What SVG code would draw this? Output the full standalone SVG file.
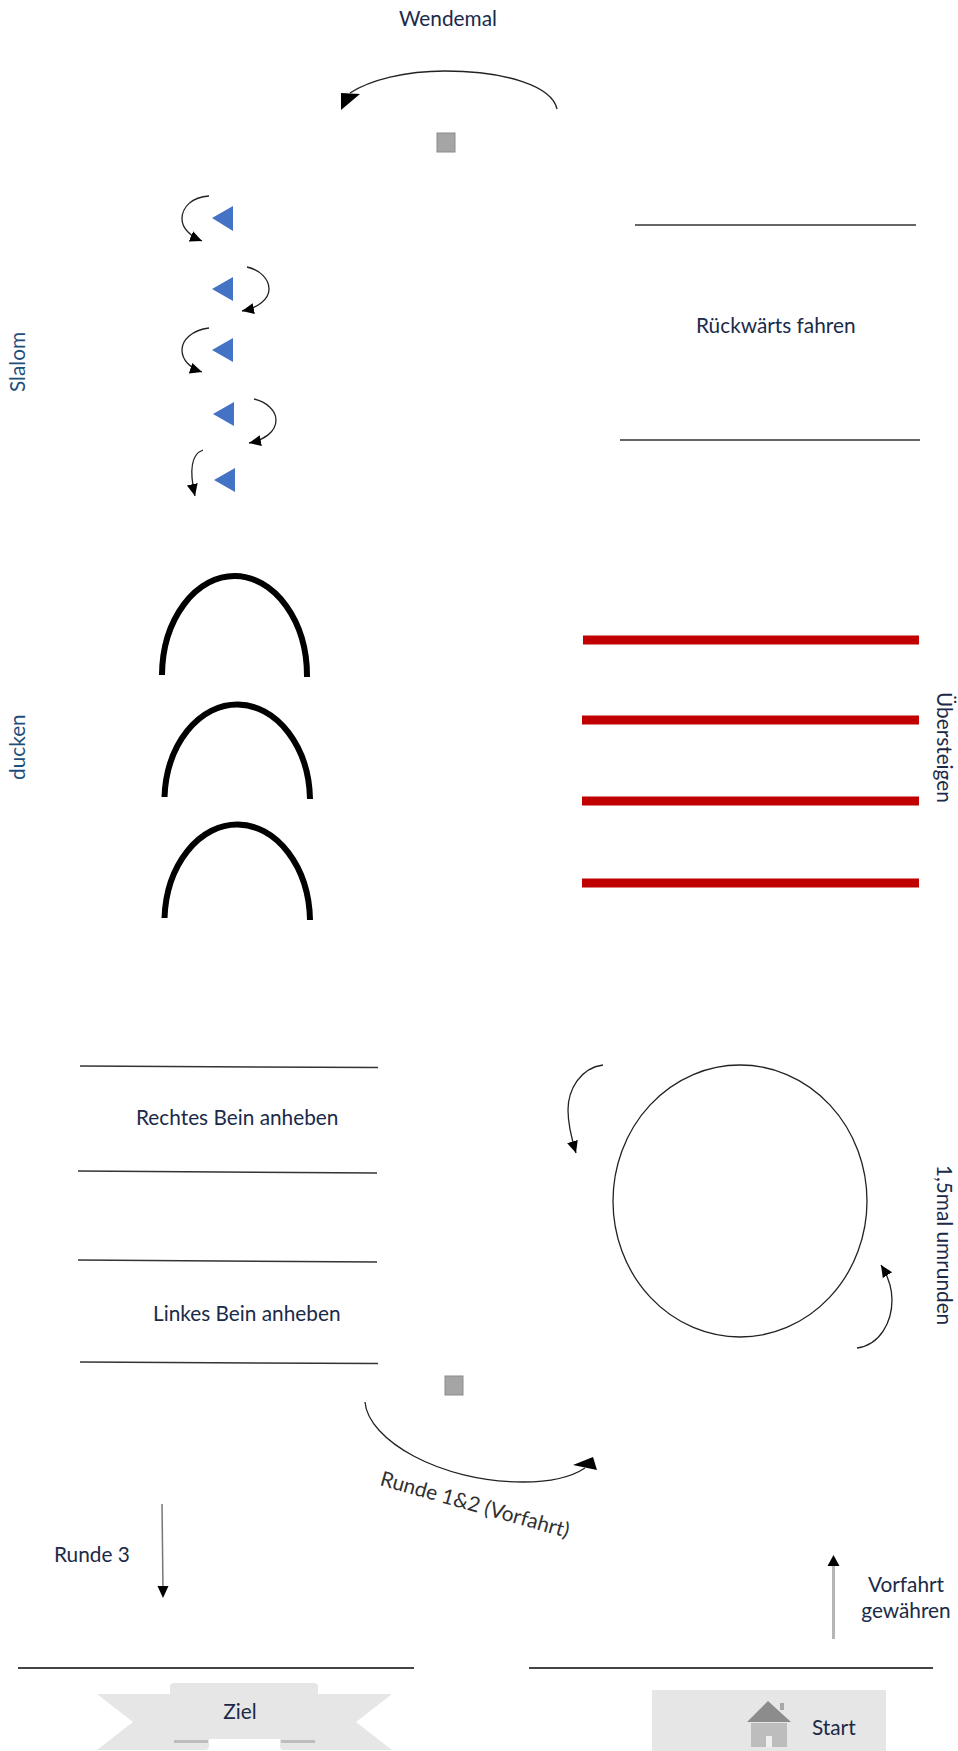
<svg xmlns="http://www.w3.org/2000/svg" width="958" height="1751" viewBox="0 0 958 1751">
<style>
text{font-family:"Lato","Liberation Sans",sans-serif;font-size:20.8px;fill:#1a2a48}
.blue{fill:#1f4e79}
.grey{fill:#303030}
.thin{fill:none;stroke:#222;stroke-width:1.3}
.line{fill:none;stroke:#333;stroke-width:1.5}
.arch{fill:none;stroke:#000;stroke-width:6}
.red{stroke:#c00000;stroke-width:9}
.tri{fill:#4472c4}
.sq{fill:#a5a5a5;stroke:#8c8c8c;stroke-width:1}
.lg{fill:#e6e6e6}
</style>
<defs>
<marker id="headW" markerUnits="userSpaceOnUse" markerWidth="40" markerHeight="40" refX="0" refY="0" orient="0" overflow="visible"><polygon points="-9,0 10,1 -9,17" fill="#000"/></marker>
<marker id="headR" markerUnits="userSpaceOnUse" markerWidth="40" markerHeight="40" refX="0" refY="0" orient="0" overflow="visible"><polygon points="-12,-3 12,2 8,-11" fill="#000"/></marker>
<marker id="small" markerUnits="userSpaceOnUse" markerWidth="14" markerHeight="12" refX="12" refY="5.5" orient="auto"><path d="M0 0L12 5.5L0 11Z" fill="#000"/></marker>
</defs>
<g id="connectors">
<path class="thin" d="M557 109C552 86 505 71 445 71C405 71 370 80 350 93" marker-end="url(#headW)"/>
<path class="thin" d="M209 196C192 197 182 207 182 219C182 228 190 236 202 241" marker-end="url(#small)"/>
<path class="thin" d="M247 267C260 270 269 279 269 289C269 300 257 308 242 311" marker-end="url(#small)"/>
<path class="thin" d="M209 328C192 330 182 340 182 350C182 360 190 368 202 372" marker-end="url(#small)"/>
<path class="thin" d="M254 399C267 402 276 411 276 420C276 432 264 440 249 443" marker-end="url(#small)"/>
<path class="thin" d="M203 450C192 454 189 470 195 496" marker-end="url(#small)"/>
<path class="thin" d="M603 1065C580 1068 568 1090 568 1110C568 1125 572 1140 576 1153" marker-end="url(#small)"/>
<path class="thin" d="M857 1348C880 1345 892 1322 892 1300C892 1288 888 1276 881 1265" marker-end="url(#small)"/>
<path class="thin" d="M365 1402C368 1440 440 1482 523 1482C550 1482 570 1478 585 1468" marker-end="url(#headR)"/>
<path d="M162 1504L163 1590" fill="none" stroke="#777" stroke-width="1.5"/>
<path d="M163 1598L157.500 1586L168.500 1586Z" fill="#000"/>
<path d="M833.500 1639L833.500 1566" fill="none" stroke="#b5b5b5" stroke-width="3"/>
<path d="M833.500 1555L839.500 1566L827.500 1566Z" fill="#000"/>
</g>
<g id="wendemal"><text x="399" y="26">Wendemal</text><rect class="sq" x="437" y="133" width="18" height="19"/></g>
<g id="slalom">
<text class="blue" transform="translate(25 392) rotate(-90)">Slalom</text>
<polygon class="tri" points="212,218 233,206 233,231"/>
<polygon class="tri" points="212,289 233,277 233,301"/>
<polygon class="tri" points="212,350 233,338 233,362"/>
<polygon class="tri" points="213,414 234,402 234,426"/>
<polygon class="tri" points="214,480 235,468 235,492"/>
</g>
<g id="rueckwaerts">
<line class="line" x1="635" y1="225" x2="916" y2="225"/>
<line class="line" x1="620" y1="440" x2="920" y2="440"/>
<text x="696" y="333">Rückwärts fahren</text>
</g>
<g id="ducken">
<text class="blue" transform="translate(25 780) rotate(-90)">ducken</text>
<path class="arch" d="M162 675A72.500 100 0 0 1 307 677"/>
<path class="arch" d="M164.500 797A72.800 97 0 0 1 310 799"/>
<path class="arch" d="M164.500 918A72.800 98 0 0 1 310 920"/>
</g>
<g id="uebersteigen">
<line class="red" x1="583" y1="640" x2="919" y2="640"/>
<line class="red" x1="582" y1="720" x2="919" y2="720"/>
<line class="red" x1="582" y1="801" x2="919" y2="801"/>
<line class="red" x1="582" y1="883" x2="919" y2="883"/>
<text transform="translate(937 692) rotate(90)">Übersteigen</text>
</g>
<g id="bein">
<line class="line" x1="80" y1="1066" x2="378" y2="1067.500"/>
<line class="line" x1="78" y1="1171" x2="377" y2="1173"/>
<line class="line" x1="78" y1="1260" x2="377" y2="1262"/>
<line class="line" x1="80" y1="1362" x2="378" y2="1363.500"/>
<text x="136" y="1125">Rechtes Bein anheben</text>
<text x="153" y="1321">Linkes Bein anheben</text>
</g>
<g id="umrunden">
<ellipse class="thin" cx="740" cy="1201" rx="127" ry="136"/>
<text transform="translate(937 1165) rotate(90)">1,5mal umrunden</text>
</g>
<g id="runde12">
<rect class="sq" x="445" y="1376" width="18" height="19"/>
<text class="grey" transform="translate(379 1485) rotate(15.700)">Runde 1&amp;2 (Vorfahrt)</text>
</g>
<g id="runde3"><text x="54" y="1562">Runde 3</text></g>
<g id="vorfahrt"><text x="906" y="1592" text-anchor="middle">Vorfahrt</text><text x="906" y="1618" text-anchor="middle">gewähren</text></g>
<g id="ziel">
<line x1="18" y1="1668" x2="414" y2="1668" stroke="#444" stroke-width="1.8"/>
<path class="lg" d="M97 1694H170V1687Q170 1683 174 1683H314Q318 1683 318 1687V1694H392L356 1722L392 1750H284Q280 1750 280 1746V1739H209V1746Q209 1750 205 1750H97L133 1722Z"/>
<rect x="174" y="1740" width="34" height="3" fill="#bdbdbd"/>
<rect x="281" y="1740" width="34" height="3" fill="#bdbdbd"/>
<text x="240" y="1719" text-anchor="middle">Ziel</text>
</g>
<g id="start">
<line x1="529" y1="1668" x2="933" y2="1668" stroke="#444" stroke-width="1.8"/>
<rect class="lg" x="652" y="1690" width="234" height="61"/>
<rect x="780" y="1703" width="4" height="7" fill="#a8a8a8"/>
<polygon points="768,1701 791,1722 747,1722" fill="#8c8c8c"/>
<rect x="751" y="1723" width="36" height="24" fill="#bdbdbd"/>
<rect x="766" y="1736" width="6" height="11" fill="#efefef"/>
<text x="812" y="1735">Start</text>
</g>
</svg>
